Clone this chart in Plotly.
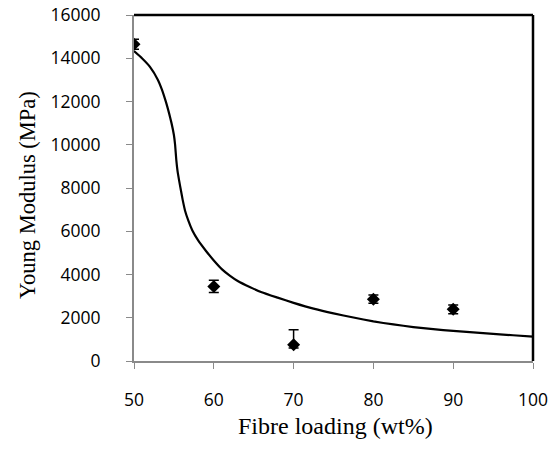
import plotly.graph_objects as go

# measured data
fibre_loading = [50, 60, 70, 80, 90]
young_modulus = [14650, 3450, 750, 2860, 2390]
err_plus = [230, 280, 690, 190, 200]
err_minus = [230, 280, 150, 190, 200]

# fitted curve
curve_x = [50, 51, 52, 53, 53.5, 54, 54.4, 54.7, 55, 55.15, 55.3, 55.45, 55.65,
           55.9, 56.1, 56.4, 56.8, 57.3, 58, 59, 60, 61, 62, 63, 64.5, 66, 68,
           70, 72.5, 75, 77.5, 80, 82.5, 85, 87.5, 90, 92.5, 95, 97.5, 100]
curve_y = [14330, 14000, 13600, 13000, 12550, 11980, 11450, 11000, 10450, 10000,
           9300, 8800, 8350, 7850, 7450, 6950, 6500, 6050, 5600, 5100, 4650, 4250,
           3950, 3700, 3420, 3180, 2930, 2690, 2420, 2200, 2010, 1830, 1690, 1570,
           1470, 1390, 1320, 1250, 1190, 1130]

x_ticks = [50, 60, 70, 80, 90, 100]
y_ticks = [0, 2000, 4000, 6000, 8000, 10000, 12000, 14000, 16000]
y_tick_text = [str(v) for v in y_ticks]
x_tick_text = [str(v) for v in x_ticks]

fig = go.Figure()
fig.add_trace(go.Scatter(
    x=curve_x, y=curve_y, mode="lines",
    line=dict(color="black", width=2.2, shape="spline", smoothing=0.4),
    hoverinfo="skip", showlegend=False))
fig.add_trace(go.Scatter(
    x=fibre_loading, y=young_modulus, mode="markers",
    marker=dict(symbol="diamond", size=10, color="black"),
    error_y=dict(type="data", symmetric=False, array=err_plus, arrayminus=err_minus,
                 color="black", thickness=1.5, width=5),
    showlegend=False))

tick_font = dict(family="Open Sans, Lato, sans-serif", size=17.5, color="black")
serif = "Liberation Serif, Times New Roman, serif"

fig.update_layout(
    width=555, height=450,
    margin=dict(l=134, r=22, t=15, b=89),
    paper_bgcolor="white", plot_bgcolor="white",
    xaxis=dict(range=[50, 100], tickvals=x_ticks, ticktext=x_tick_text,
               showgrid=False, zeroline=False, automargin=False,
               showline=True, linecolor="#8a8a8a", linewidth=2,
               ticks="outside", ticklen=6, tickcolor="#8a8a8a", tickwidth=1,
               tickfont=tick_font, ticklabelstandoff=16, ticklabeloverflow="allow"),
    yaxis=dict(range=[0, 16000], tickvals=y_ticks, ticktext=y_tick_text,
               showgrid=False, zeroline=False, automargin=False,
               showline=True, linecolor="#8a8a8a", linewidth=2,
               ticks="outside", ticklen=6, tickcolor="#8a8a8a", tickwidth=1,
               tickfont=tick_font, ticklabelstandoff=22, ticklabeloverflow="allow"),
    shapes=[
        dict(type="line", xref="paper", yref="paper", x0=0, x1=1, y0=1, y1=1,
             line=dict(color="black", width=2.5)),
        dict(type="line", xref="paper", yref="paper", x0=1, x1=1, y0=0, y1=1,
             line=dict(color="black", width=2.5)),
    ],
    annotations=[
        dict(text="Fibre loading (wt%)", xref="paper", yref="paper",
             x=(335 - 134) / 399, y=-(426 - 361) / 346, xanchor="center", yanchor="middle",
             showarrow=False, font=dict(family=serif, size=24, color="black")),
        dict(text="Young Modulus (MPa)", xref="paper", yref="paper",
             x=-(134 - 28) / 399, y=0.48, xanchor="center", yanchor="middle",
             textangle=-90, showarrow=False,
             font=dict(family=serif, size=22.5, color="black")),
    ],
)

fig.write_html("out.html", config={"displayModeBar": False},
               post_script="document.body.style.margin='0';document.body.style.overflow='hidden';")
